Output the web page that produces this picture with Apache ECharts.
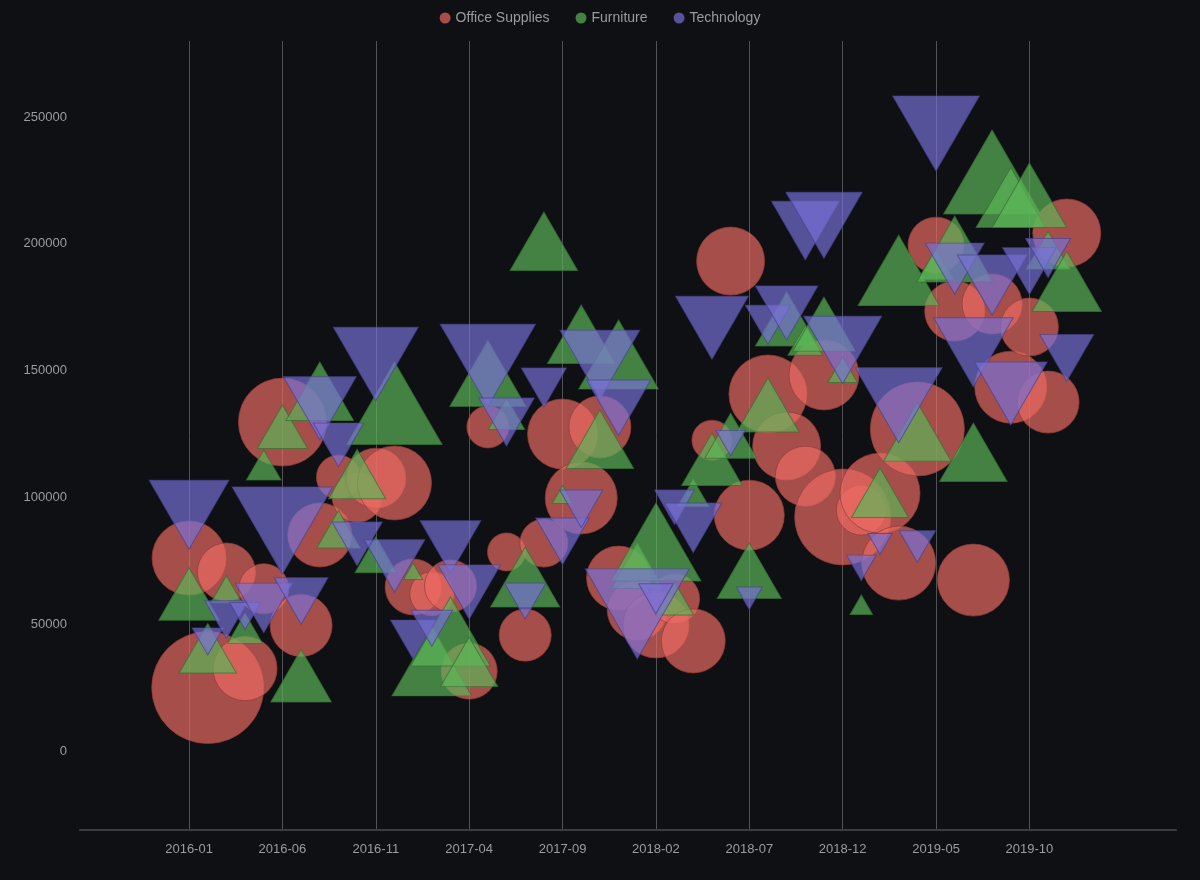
<!DOCTYPE html>
<html>
<head>
<meta charset="utf-8">
<title>Sales by Category</title>
<script src="https://cdn.jsdelivr.net/npm/echarts@6.0.0/dist/echarts.min.js"></script>
<style>
  html, body { margin: 0; padding: 0; background: #0e1013; }
  #chart { width: 1200px; height: 880px; }
</style>
</head>
<body>
<div id="chart"></div>
<script>
// months on the x axis (index = position on axis)
var months = [
  '2016-01','2016-02','2016-03','2016-04','2016-05','2016-06','2016-07','2016-08','2016-09','2016-10','2016-11','2016-12',
  '2017-01','2017-02','2017-03','2017-04','2017-05','2017-06','2017-07','2017-08','2017-09','2017-10','2017-11','2017-12',
  '2018-01','2018-02','2018-03','2018-04','2018-05','2018-06','2018-07','2018-08','2018-09','2018-10','2018-11','2018-12',
  '2019-01','2019-02','2019-03','2019-04','2019-05','2019-06','2019-07','2019-08','2019-09','2019-10','2019-11','2019-12'
];
var xTickIndex = [0, 5, 10, 15, 20, 25, 30, 35, 40, 45];
var yTickValues = [0, 50000, 100000, 150000, 200000, 250000];

// Office Supplies: sales and bubble radius
var officeValues = [76100, 25000, 70600, 32500, 64000, 129700, 49500, 85200, 108000, 100000, 107600, 105700,
  64700, 62000, 65100, 31500, 127800, 78500, 45700, 82000, 125000, 99800, 127800, 68200,
  55600, 49700, 60000, 43400, 122600, 193200, 93000, 140800, 120300, 108400, 148300, 92300,
  95000, 101700, 74100, 127000, 199500, 173500, 67400, 176300, 143500, 167200, 137600, 204300];
var officeSizes = [37, 56, 29, 32, 25, 44, 31, 32, 22, 25, 30, 37,
  28, 22, 26, 28, 21, 19, 26, 24, 35, 36, 31, 32,
  30, 33, 25, 32, 20, 34, 35, 39, 34, 30, 35, 48,
  25, 40, 37, 47, 28, 30, 36, 30, 36, 29, 31, 34];

// Furniture
var furnitureValues = [58500, 37300, 62000, 46400, 110800, 125000, 26200, 138000, 85000, 106000, 75000, 131700,
  69800, 30800, 42600, 31900, 144500, 130900, 64700, 197200, 100000, 160500, 119100, 151800,
  70000, 77300, 58000, 100000, 111600, 121400, 67400, 132900, 166800, 160000, 164800, 148700,
  56400, 98600, 184900, 122000, 190000, 193600, 114000, 222800, 214300, 214900, 195000, 181200];
var furnitureSizes = [35, 33, 18, 20, 20, 29, 35, 39, 25, 33, 24, 55,
  11, 46, 46, 33, 44, 21, 40, 39, 12, 39, 39, 46,
  30, 52, 22, 18, 35, 30, 37, 36, 36, 20, 36, 17,
  13, 33, 47, 39, 20, 44, 39, 56, 40, 43, 25, 40];

// Technology
var techValues = [97700, 45000, 54300, 55000, 59700, 92700, 62200, 139300, 123600, 84600, 157500, 76400,
  46500, 50800, 83900, 66300, 157500, 132900, 61500, 145900, 85800, 98000, 156900, 139000,
  60000, 62000, 98400, 91300, 171100, 123100, 61700, 170700, 176300, 209100, 211700, 162600,
  73900, 83000, 141300, 82700, 248500, 193600, 161800, 187700, 145100, 192400, 197000, 158100];
var techSizes = [46, 18, 25, 18, 33, 58, 31, 42, 29, 29, 49, 35,
  26, 24, 35, 36, 55, 32, 24, 26, 31, 25, 46, 37,
  60, 20, 23, 33, 42, 17, 15, 26, 36, 39, 44, 45,
  17, 14, 50, 21, 50, 34, 46, 40, 42, 31, 26, 31];

function toPoints(values, sizes) {
  return values.map(function (v, i) { return [i, v, sizes[i]]; });
}

function cal_option() {
  var labelColor = '#9b9c9e';
  return {
    backgroundColor: '#0e1013',
    animation: false,
    textStyle: { fontFamily: 'Liberation Sans, Arial, sans-serif' },
    legend: {
      top: 6,
      left: 'center',
      icon: 'circle',
      itemWidth: 11,
      itemHeight: 11,
      itemGap: 26,
      itemStyle: { borderWidth: 0 },
      textStyle: { color: '#9a9b9d', fontSize: 14 },
      data: ['Office Supplies', 'Furniture', 'Technology']
    },
    grid: { left: 80, right: 24, top: 41, bottom: 50 },
    xAxis: {
      type: 'value',
      min: -5.84,
      max: 52.85,
      axisLine: { show: true, onZero: false, lineStyle: { color: '#3a3c40', width: 2 } },
      axisTick: { show: false, customValues: xTickIndex },
      axisLabel: {
        customValues: xTickIndex,
        color: labelColor,
        fontSize: 13,
        margin: 13,
        formatter: function (v) { return months[Math.round(v)] || ''; }
      },
      splitLine: { show: true, lineStyle: { color: '#505256', width: 1 } }
    },
    yAxis: {
      type: 'value',
      min: -31150,
      max: 280000,
      axisLine: { show: false },
      axisTick: { show: false },
      splitLine: { show: false },
      axisLabel: {
        customValues: yTickValues,
        color: labelColor,
        fontSize: 13,
        margin: 13,
        formatter: function (v) { return String(v); }
      }
    },
    series: [
      {
        name: 'Office Supplies',
        type: 'scatter',
        symbol: 'circle',
        symbolSize: function (d) { return d[2] * 2; },
        itemStyle: { color: 'rgba(236,106,98,0.86)', borderColor: 'rgba(150,60,55,0.9)', borderWidth: 1 },
        data: toPoints(officeValues, officeSizes)
      },
      {
        name: 'Furniture',
        type: 'scatter',
        symbol: 'triangle',
        symbolSize: function (d) { return [d[2] * 1.732, d[2] * 1.5]; },
        symbolOffset: [0, '-16.67%'],
        itemStyle: { color: 'rgba(92,182,88,0.86)', borderColor: 'rgba(52,112,50,0.9)', borderWidth: 1 },
        data: toPoints(furnitureValues, furnitureSizes)
      },
      {
        name: 'Technology',
        type: 'scatter',
        symbol: 'triangle',
        symbolRotate: 180,
        symbolSize: function (d) { return [d[2] * 1.732, d[2] * 1.5]; },
        symbolOffset: [0, '16.67%'],
        itemStyle: { color: 'rgba(120,112,214,0.86)', borderColor: 'rgba(72,66,145,0.9)', borderWidth: 1 },
        data: toPoints(techValues, techSizes)
      }
    ]
  };
}

var myChart = echarts.init(document.getElementById('chart'));
myChart.setOption(cal_option());
</script>
</body>
</html>
